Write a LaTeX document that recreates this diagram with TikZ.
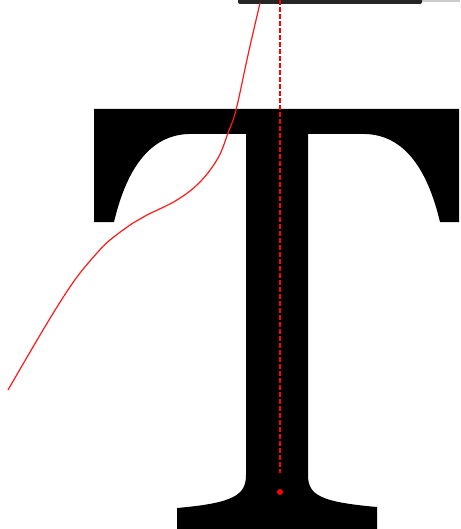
\documentclass[tikz,border=0pt]{standalone}
\begin{document}
\begin{tikzpicture}[x=1pt,y=-1pt,
  glyph/.style={fill=black},
  redcurve/.style={draw=red!90!white,line width=1.2pt},
  axisline/.style={draw=red,line width=1.2pt,dash pattern=on 5pt off 2pt},
  penbar/.style={fill=black!70!gray},
  penfade/.style={fill=black!20}]
\useasboundingbox (0,0) rectangle (460,529);
% glyph T
\path[glyph] (94,109) -- (459,109) -- (459,222) -- (440,222)
  .. controls (430,180) and (410,135) .. (365,134) -- (308,134) -- (308,475)
  .. controls (308,495) and (320,502) .. (377,507) -- (377,529) -- (177,529) -- (177,508)
  .. controls (234,503) and (246,495) .. (246,475) -- (246,134) -- (189,134)
  .. controls (144,135) and (124,180) .. (114,222) -- (94,222) -- cycle;
% pen bar at top
\path[penfade] (380,0) rectangle (460,1.8);
\path[penbar,rounded corners=2pt] (238,-3) -- (238,4) -- (422,4) -- (422,-3) -- cycle;
% axis
\coordinate (top) at (280,0);
\coordinate (bot) at (280,473);
\draw[axisline] (top) -- (bot);
\node[circle,fill=red,inner sep=0pt,minimum size=6pt] (dot) at (280,492) {};
% red curve
\draw[redcurve] plot[smooth,tension=0.6] coordinates {(260,3) (248,55) (236,110) (228,133) (218,158) (200,182) (177,200) (147,215) (133,223) (110,240) (97,253) (77,277) (57,307) (33,347) (8,390)};
\end{tikzpicture}
\end{document}
